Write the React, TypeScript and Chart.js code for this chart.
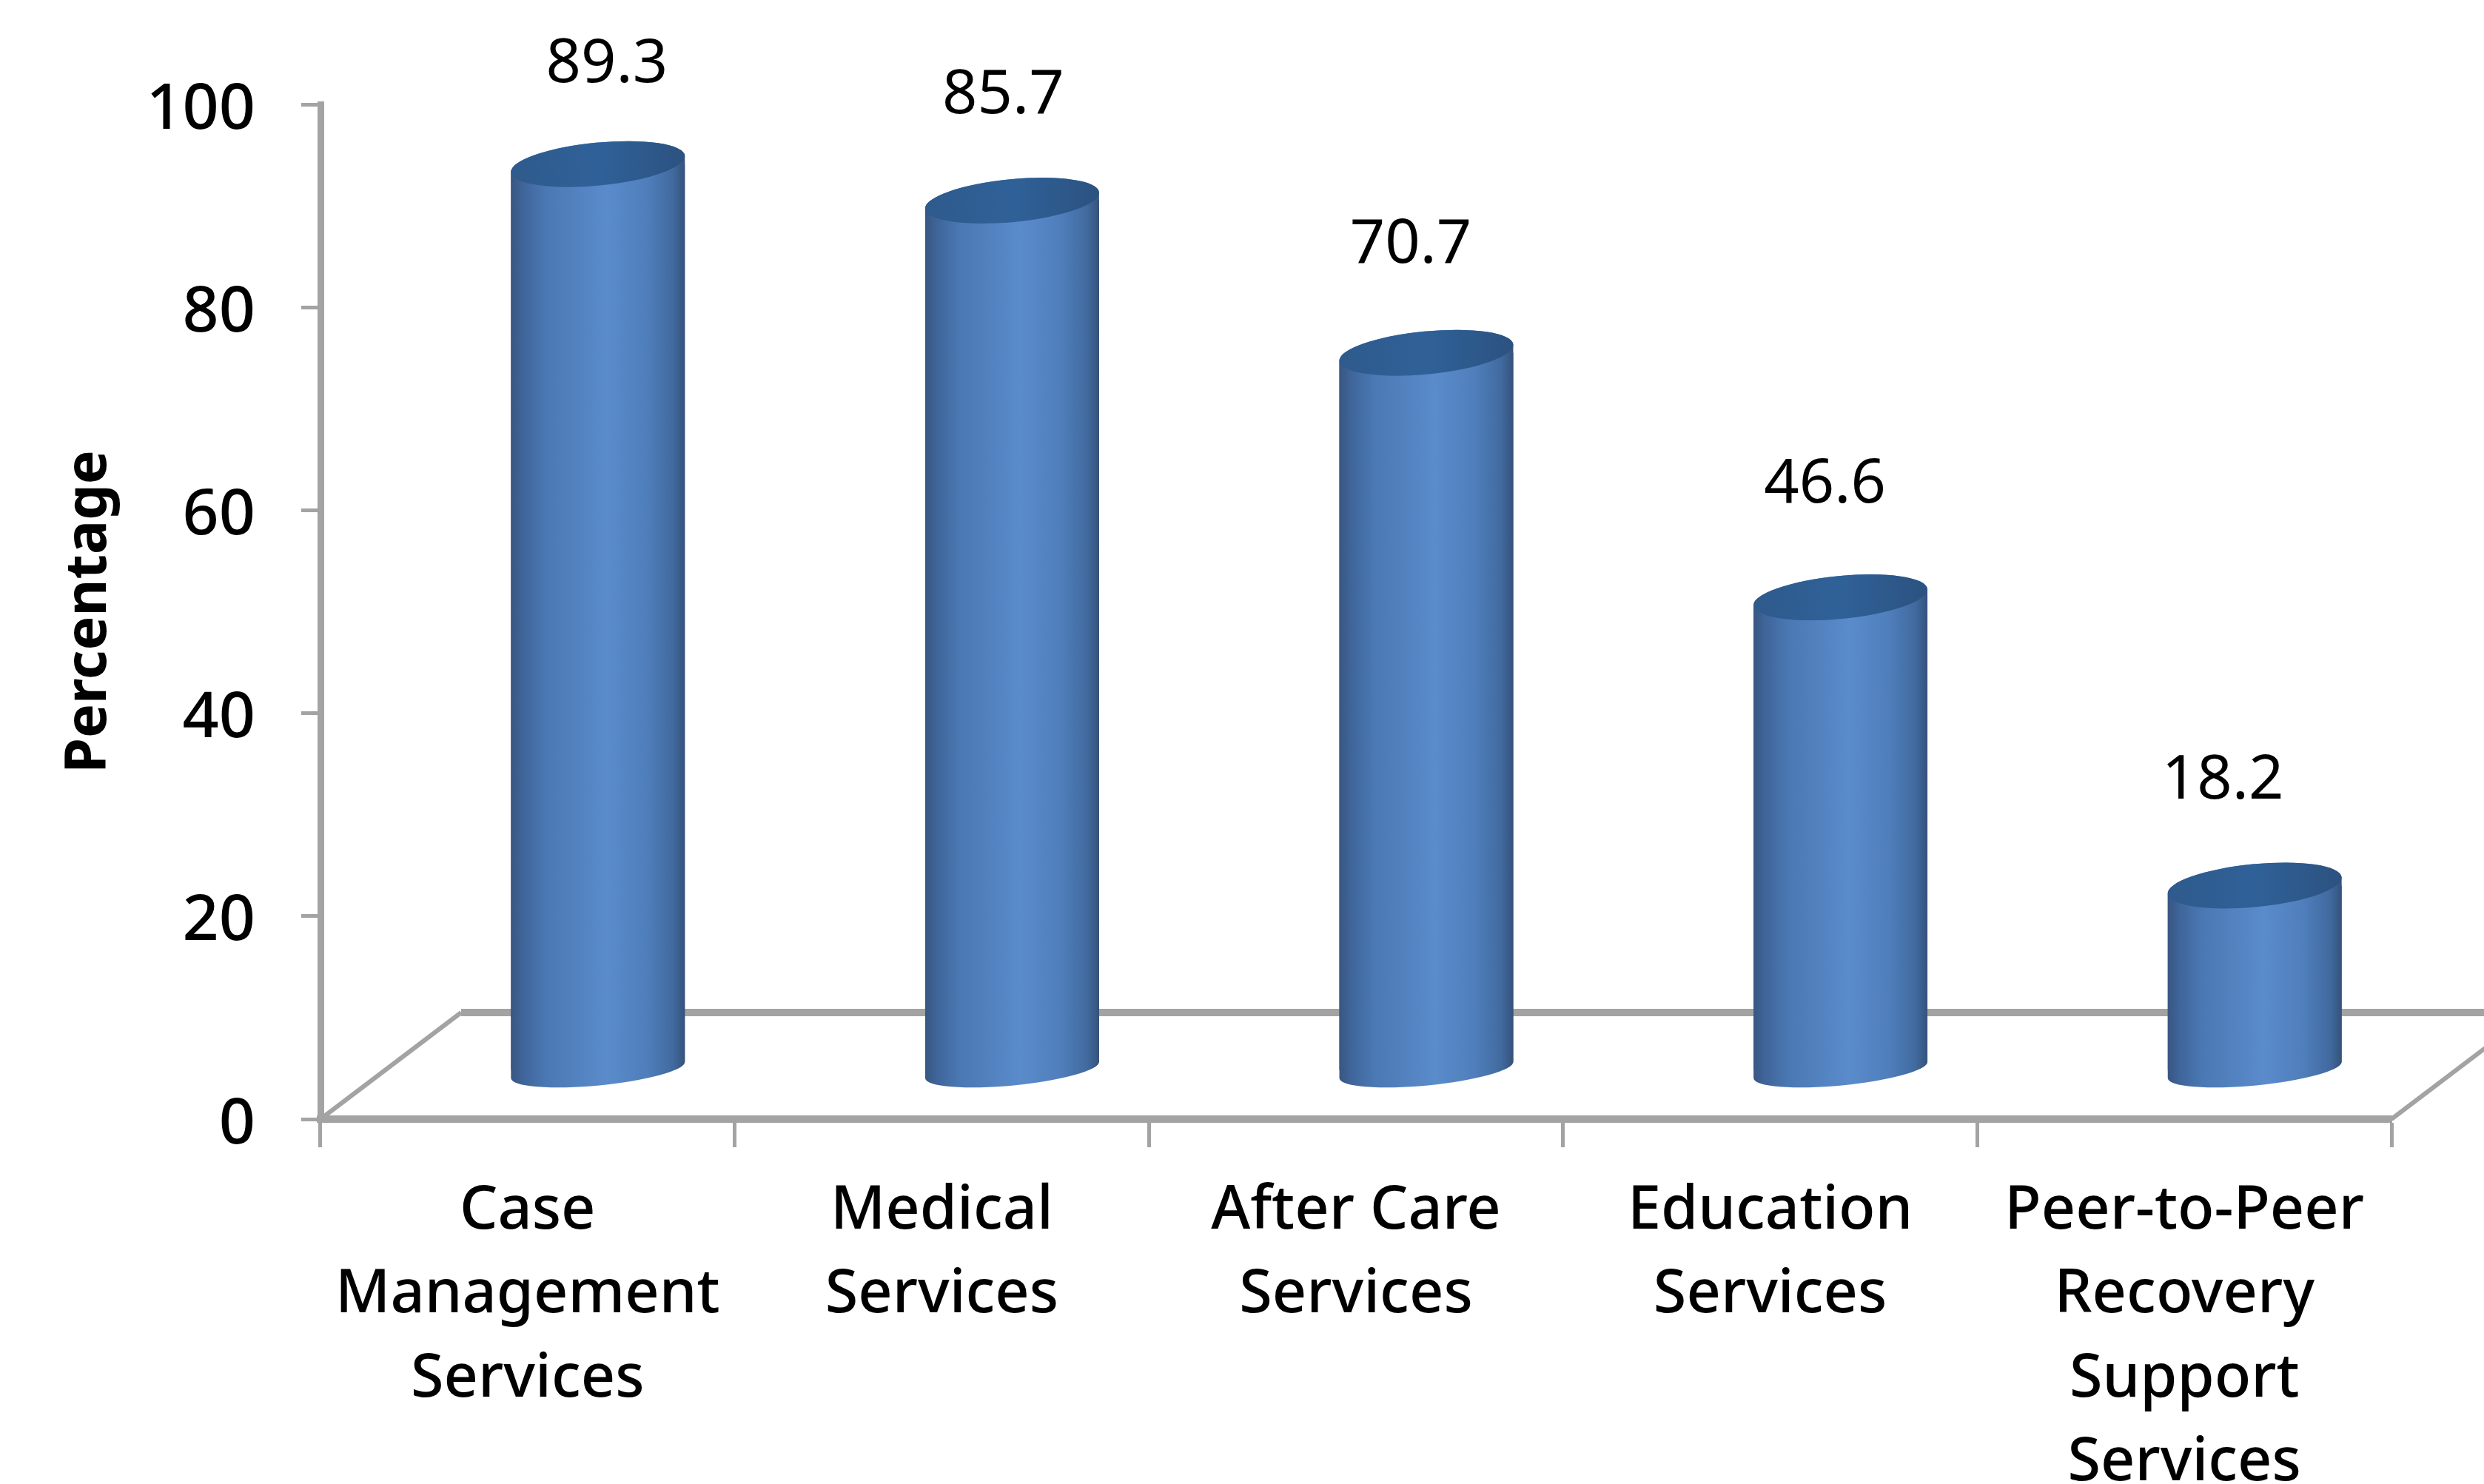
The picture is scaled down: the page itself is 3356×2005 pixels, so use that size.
import React, { useEffect, useRef } from "react";
import { Chart, registerables } from "chart.js";

Chart.register(...registerables);

const categories: string[][] = [
  ["Case", "Management", "Services"],
  ["Medical", "Services"],
  ["After Care", "Services"],
  ["Education", "Services"],
  ["Peer-to-Peer", "Recovery", "Support", "Services"],
];
const percentages: number[] = [89.3, 85.7, 70.7, 46.6, 18.2];
const yAxisTitle = "Percentage";

const labelNudgeX = [107, 83, 74, 74, 52];
const labelNudgeY = [134, 142, 145, 152, 141];

const FONT = "'Noto Sans'";
const AXIS = "#A3A3A3";
const W = 3356;
const H = 2005;
const DEPTH_X = 190;
const DEPTH_Y = 144;
const BAR_DX = 95;
const BAR_DY = -66;
const RX = 118;
const RY_TOP = 29;
const RY_BOTTOM = 21;
const TILT = (-5.5 * Math.PI) / 180;

function bodyGradient(ctx: CanvasRenderingContext2D, x: number) {
  if (!Number.isFinite(x)) return "#4F7EBB";
  const g = ctx.createLinearGradient(x - RX, 0, x + RX, 0);
  g.addColorStop(0, "#385680");
  g.addColorStop(0.07, "#3F659A");
  g.addColorStop(0.2, "#4A78B3");
  g.addColorStop(0.55, "#5A8BCB");
  g.addColorStop(0.78, "#4F7EBB");
  g.addColorStop(0.93, "#416A9F");
  g.addColorStop(1, "#35517A");
  return g;
}

function silhouette(ctx: any, x: number, top: number, base: number) {
  ctx.moveTo(x - RX * Math.cos(TILT), top - RX * Math.sin(TILT));
  ctx.ellipse(x, top, RX, RY_TOP, TILT, Math.PI, 2 * Math.PI);
  ctx.lineTo(x + RX * Math.cos(TILT), base + RX * Math.sin(TILT));
  ctx.ellipse(x, base, RX, RY_BOTTOM, TILT, 0, Math.PI);
  ctx.closePath();
}

const cylinderPlugin = {
  id: "cylinder",
  beforeDatasetsDraw(chart: any) {
    const { ctx, chartArea, scales } = chart;
    const y0 = scales.y.getPixelForValue(0);
    ctx.save();
    ctx.strokeStyle = AXIS;
    ctx.lineWidth = 10;
    ctx.beginPath();
    ctx.moveTo(chartArea.left + DEPTH_X, y0 - DEPTH_Y);
    ctx.lineTo(W, y0 - DEPTH_Y);
    ctx.stroke();
    ctx.lineWidth = 6;
    ctx.beginPath();
    ctx.moveTo(chartArea.left, y0);
    ctx.lineTo(chartArea.left + DEPTH_X, y0 - DEPTH_Y);
    ctx.moveTo(chartArea.right, y0);
    ctx.lineTo(chartArea.right + DEPTH_X, y0 - DEPTH_Y);
    ctx.stroke();
    ctx.restore();

    const bars = chart.getDatasetMeta(0).data;
    ctx.save();
    ctx.translate(BAR_DX, BAR_DY);
    bars.forEach((b: any) => {
      ctx.beginPath();
      silhouette(ctx, b.x, b.y, b.base);
      ctx.fillStyle = bodyGradient(ctx, b.x);
      ctx.fill();
    });
    ctx.beginPath();
    bars.forEach((b: any) => silhouette(ctx, b.x, b.y, b.base));
    ctx.clip();
  },
  afterDatasetsDraw(chart: any) {
    const { ctx, scales } = chart;
    const bars = chart.getDatasetMeta(0).data;
    ctx.restore();
    ctx.save();
    ctx.translate(BAR_DX, BAR_DY);
    bars.forEach((b: any) => {
      const g = ctx.createLinearGradient(b.x - RX, 0, b.x + RX, 0);
      g.addColorStop(0, "#2F5A8C");
      g.addColorStop(0.5, "#2F6198");
      g.addColorStop(1, "#2C5280");
      ctx.beginPath();
      ctx.ellipse(b.x, b.y, RX, RY_TOP, TILT, 0, 2 * Math.PI);
      ctx.fillStyle = g;
      ctx.fill();
    });
    ctx.restore();

    ctx.save();
    ctx.font = `83px ${FONT}`;
    ctx.fillStyle = "#000";
    ctx.textAlign = "center";
    ctx.textBaseline = "middle";
    percentages.forEach((v, i) => {
      const x = scales.x.getPixelForValue(i) + labelNudgeX[i];
      const y = scales.y.getPixelForValue(v) + BAR_DY - labelNudgeY[i];
      ctx.fillText(v.toFixed(1), x, y);
    });
    ctx.restore();
  },
};

export default function App() {
  const ref = useRef<HTMLCanvasElement>(null);
  useEffect(() => {
    const chart = new Chart(ref.current!, {
      type: "bar",
      data: {
        labels: categories,
        datasets: [
          {
            label: yAxisTitle,
            data: percentages,
            categoryPercentage: 1,
            barPercentage: 236 / 559.6,
            borderWidth: 0,
            clip: false,
            backgroundColor: (c: any) => {
              const s = c.chart.scales?.x;
              const x = s ? s.getPixelForValue(c.dataIndex) : NaN;
              return bodyGradient(c.chart.ctx, x);
            },
          } as any,
        ],
      },
      plugins: [cylinderPlugin],
      options: {
        responsive: false,
        animation: false,
        layout: { padding: { top: 141, right: 125, left: 0, bottom: 0 } },
        plugins: { legend: { display: false }, tooltip: { enabled: false } },
        scales: {
          x: {
            type: "category",
            offset: true,
            afterFit: (s: any) => {
              s.height = H - 1512;
            },
            border: { color: AXIS, width: 10 },
            grid: {
              offset: true,
              drawOnChartArea: false,
              tickColor: AXIS,
              tickWidth: 5,
              tickLength: 38,
            },
            ticks: {
              color: "#000",
              maxRotation: 0,
              autoSkip: false,
              padding: 30,
              font: { family: FONT, size: 81, weight: "500", lineHeight: 1.4 },
            },
          },
          y: {
            min: 0,
            max: 100,
            afterFit: (s: any) => {
              s.width = 433;
            },
            border: { color: AXIS, width: 9 },
            grid: {
              drawOnChartArea: false,
              tickColor: AXIS,
              tickWidth: 5,
              tickLength: 26,
            },
            ticks: {
              stepSize: 20,
              color: "#000",
              padding: 62,
              labelOffset: 8,
              font: { family: FONT, size: 86, weight: "500" },
            },
            title: {
              display: true,
              text: yAxisTitle,
              color: "#000",
              padding: { top: 75, bottom: 0 },
              font: { family: FONT, size: 77, weight: "bold", lineHeight: 1.2 },
            },
          },
        },
      } as any,
    });
    return () => chart.destroy();
  }, []);
  return (
    <canvas
      ref={ref}
      width={W}
      height={H}
      style={{ position: "absolute", left: 0, top: 0, width: W, height: H, background: "#fff", display: "block" }}
    />
  );
}
